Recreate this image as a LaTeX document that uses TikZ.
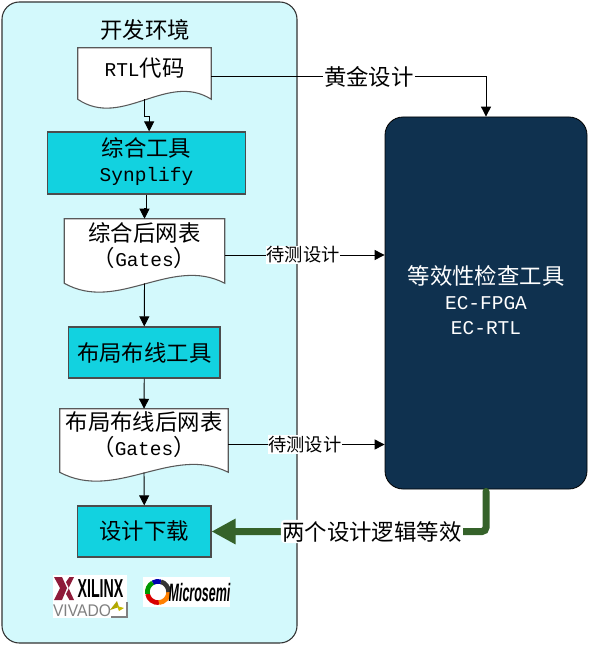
\documentclass[tikz,border=0pt]{standalone}
\usepackage{fontspec}
\setmainfont[Scale=0.87]{Liberation Mono}
\newfontfamily\cjkfont{Noto Sans CJK SC}
\newfontfamily\logofont{Liberation Sans}
\usetikzlibrary{calc,arrows.meta,backgrounds}
\definecolor{panelcyan}{HTML}{D3F9FC}
\definecolor{tooltan}{HTML}{12D2E0}
\definecolor{eqnavy}{HTML}{0F314F}
\definecolor{passgreen}{HTML}{35622A}
\definecolor{xilinxred}{HTML}{8E1B3A}
\newcommand{\zh}[1]{{\cjkfont #1}}
\newcommand{\docwave}[1]{%
    \draw[docline] (#1.south west) -- (#1.north west) -- (#1.north east) -- (#1.south east)
        .. controls ($(#1.south west)!0.667!(#1.south east)+(0,-28)$)
        and ($(#1.south west)!0.333!(#1.south east)+(0,30)$) .. (#1.south west) -- cycle;}
\begin{document}
\begin{tikzpicture}[
    x=0.75pt, y=-0.75pt,
    every node/.style={font=\fontsize{16.8}{18.9}\selectfont},
    docbox/.style={inner sep=0pt},
    doctext/.style={align=center, yshift=4.3pt},
    boxtext/.style={align=center, yshift=1pt},
    eqtext/.style={align=center, yshift=2.2pt, text=white},
    docline/.style={draw=black!65, fill=white, line width=0.8pt},
    toolbox/.style={
        draw=black!70,
        line width=0.9pt,
        fill=tooltan,
        align=center,
        inner sep=0pt,
    },
    arr/.style={-{Triangle[length=7.5pt,width=7.5pt]}, black, line width=0.7pt},
    tag/.style={fill=white, inner sep=0.6pt, font=\fontsize{13.7}{16}\selectfont},
    bigtag/.style={fill=white, inner sep=1pt, text=black, font=\fontsize{16.8}{20}\selectfont},
]

% Panel and document outlines
\begin{pgfonlayer}{background}
\fill[white] (0,0) rectangle (593,648);
\draw[fill=panelcyan, draw=black!80, line width=0.8pt, rounded corners=13pt] (2,2) rectangle (297,643);
\end{pgfonlayer}

\node (envtitle) at (145,30) {\zh{开发环境}};

% --- Left column ---
\node[docbox, minimum width=99.75pt, minimum height=38.25pt,
    label={[doctext, name=rtltext]center:{RTL\zh{代码}}}] (rtl) at (144.5,73.5) {};
\node[toolbox, minimum width=148pt, minimum height=46.5pt,
    label={[boxtext, name=synthtext]center:{\zh{综合工具}\\Synplify}}] (synth) at (146.5,163) {};
\node[docbox, minimum width=120pt, minimum height=48pt,
    label={[doctext, name=gatestext]center:{\zh{综合后网表}\\\zh{（}Gates\zh{）}}}] (gates) at (144.5,251) {};
\node[toolbox, minimum width=113.5pt, minimum height=38.25pt] (pnr) at (144.25,352.5)
    {\zh{布局布线工具}};
\node[docbox, minimum width=126pt, minimum height=47.25pt,
    label={[doctext, name=routedtext]center:{\zh{布局布线后网表}\\\zh{（}Gates\zh{）}}}] (routed) at (144,440.5) {};
\node[toolbox, minimum width=100pt, minimum height=38.25pt] (load) at (144.25,531.5)
    {\zh{设计下载}};

\begin{pgfonlayer}{background}
\docwave{rtl}
\docwave{gates}
\docwave{routed}
\end{pgfonlayer}

% --- Right tool ---
\node[fill=eqnavy, draw=black, line width=0.6pt, rounded corners=13.5pt,
    minimum width=151.5pt, minimum height=279pt, inner sep=0pt,
    label={[eqtext, name=eqtooltext]center:{\zh{等效性检查工具}\\EC-FPGA\\EC-RTL}}] (eqtool) at (486,303) {};

% Taps at the height where the side lines leave the documents
\coordinate (rtltap) at ([yshift=-2.6pt]rtl.east);
\coordinate (gatestap) at ([yshift=-3pt]gates.east);
\coordinate (routedtap) at ([yshift=-3pt]routed.east);

% --- Connectors ---
\draw[arr] (rtl.south) -- ++(0,17) -| ([xshift=2pt]synth.north);
\draw[arr] (synth.south) -- ++(0,14) -| (gates.north);
\draw[arr] (gates.south) -- (pnr.north);
\draw[arr] (pnr.south) -- (routed.north);
\draw[arr] (routed.south) -- (load.north);
\draw[arr] (rtltap) -- node[pos=0.574, bigtag] (goldtag) {\zh{黄金设计}} (rtltap -| eqtool.north) -- (eqtool.north);
\draw[arr] (gatestap) -- node[pos=0.49, tag] (dutA) {\zh{待测设计}} (gatestap -| eqtool.west);
\draw[arr] (routedtap) -- node[pos=0.49, tag] (dutB) {\zh{待测设计}} (routedtap -| eqtool.west);
\draw[-{Triangle[length=18pt,width=18pt]}, passgreen, line width=5.25pt, rounded corners=3pt, line cap=round]
    ([yshift=-1.5pt]eqtool.south) |- node[pos=0.708, bigtag] (sametag) {\zh{两个设计逻辑等效}} (load.east);

% --- Vendor marks ---
\fill[white] (53,575) rectangle (127,618);
\fill[xilinxred] (54,577) -- (62,577) -- (67,588) -- (62,600) -- (54,600) -- (60,588) -- cycle;
\fill[xilinxred] (66,582) -- (69.5,577) -- (74,577) -- (68.5,588) -- (74,600) -- (69.5,600) -- (66,594) -- (69,588) -- cycle;
\node[inner sep=0pt, font=\logofont\bfseries\fontsize{13}{13}\selectfont] (xilinx) at (100.5,588.5) {\scalebox{0.82}[1.5]{XILINX}};
\node[inner sep=0pt, text=black!50, font=\logofont\fontsize{11.5}{12}\selectfont] (vivado) at (82,610.5) {\scalebox{1.02}[1.1]{VIVADO}};
\fill[olive!70!yellow] (110,610) -- (117,601) -- (119,607) -- cycle;
\fill[olive!50!yellow] (117,606) -- (124,608) -- (119,611) -- cycle;
\draw[black!50, line width=0.8pt] (127,602) -- (127,617) -- (111,617);

\fill[white] (143,577) rectangle (230,607);
\foreach \arcfrom/\arcto/\arccol in {190/275/red!85!black, 275/360/orange, 0/75/black!80, 75/120/blue!70!black, 120/190/green!60!black}
    \draw[\arccol, line width=3.5pt] (158,592) ++(\arcfrom:8pt) arc (\arcfrom:\arcto:8pt);
\node[inner sep=0pt, font=\logofont\bfseries\itshape\fontsize{13}{13}\selectfont] (microsemi) at (199.5,592.5) {\scalebox{0.72}[1.45]{Microsemi}};

\end{tikzpicture}
\end{document}
